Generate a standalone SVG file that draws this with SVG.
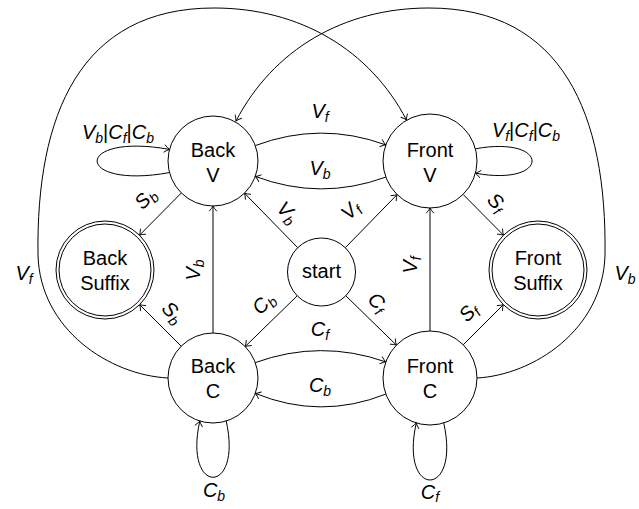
<svg xmlns="http://www.w3.org/2000/svg" width="639" height="509" viewBox="0 0 639 509">
  <style>
    .st { fill: #fff; stroke: #000; stroke-width: 1; }
    .nt { font-family: "Liberation Sans", Arial, sans-serif; font-size: 20px; text-anchor: middle; fill: #000; }
    .ed { fill: none; stroke: #000; stroke-width: 1; marker-end: url(#arr); }
    .lb { font-family: "Liberation Sans", Arial, sans-serif; font-size: 20px; font-style: italic; text-anchor: middle; fill: #000; }
    .sb { font-size: 14px; }
    .up { font-style: normal; }
  </style>
  <defs>
    <marker id="arr" markerUnits="userSpaceOnUse" viewBox="-7 -5 8 10" markerWidth="8" markerHeight="10" refX="0" refY="0" orient="auto" overflow="visible">
      <path d="M-5,-3.6 Q-2,-0.9 0,0 Q-2,0.9 -5,3.6" fill="none" stroke="#000" stroke-width="0.9" stroke-linecap="round"/>
    </marker>
  </defs>

  <!-- transitions -->
  <g id="edges">
    <!-- long arcs over the top -->
    <path class="ed" d="M168,378 C110,375 40,330 38,255 C36,115 80,8 214,8 C300,8 370,50 406.5,120"/>
    <path class="ed" d="M477,378 C533,375 603,330 605,255 C607,115 563,8 429,8 C343,8 273,50 236,121"/>

    <!-- from start -->
    <path class="ed" d="M297.7,247.7 L244.5,193.2"/>
    <path class="ed" d="M345.3,247.7 L397.1,194.6"/>
    <path class="ed" d="M297.2,295.8 L245.2,346.5"/>
    <path class="ed" d="M345.8,295.8 L396.4,345.1"/>

    <!-- into the suffix states -->
    <path class="ed" d="M181.3,193 L139.5,235.2"/>
    <path class="ed" d="M181.2,346.2 L139.6,304.6"/>
    <path class="ed" d="M463.1,194.4 L503.5,235.2"/>
    <path class="ed" d="M463.2,344.8 L503.4,304.6"/>

    <!-- C to V -->
    <path class="ed" d="M213,333 L213,206"/>
    <path class="ed" d="M430,331 L430,208"/>

    <!-- between Back and Front -->
    <path class="ed" d="M255.3,145.6 Q320.5,121 385.8,144.9"/>
    <path class="ed" d="M385.8,177.1 Q320.5,201 255.3,176.4"/>
    <path class="ed" d="M255.3,362.6 Q320.5,339 385.8,361.9"/>
    <path class="ed" d="M385.8,394.1 Q320.5,420 255.3,393.4"/>

    <!-- self loops -->
    <path class="ed" d="M169.5,172.6 C73,190 73,132 169.5,149.4"/>
    <path class="ed" d="M475.4,148.8 C551,135 551,187 475.4,173.2"/>
    <path class="ed" d="M226.2,421 C243,496 183,496 199.8,421"/>
    <path class="ed" d="M443.7,422.9 C461,499 399,499 416.3,422.9"/>

    <!-- transition labels -->
    <text class="lb" x="24" y="280">V<tspan class="sb" dy="4">f</tspan></text>
    <text class="lb" x="625" y="280">V<tspan class="sb" dy="4">b</tspan></text>

    <text class="lb" transform="translate(283,217) rotate(45)">V<tspan class="sb" dy="4">b</tspan></text>
    <text class="lb" transform="translate(355,215) rotate(-45)">V<tspan class="sb" dy="4">f</tspan></text>
    <text class="lb" transform="translate(268,308) rotate(-45)">C<tspan class="sb" dy="4">b</tspan></text>
    <text class="lb" transform="translate(373,307) rotate(45)">C<tspan class="sb" dy="4">f</tspan></text>

    <text class="lb" transform="translate(150,203) rotate(-45)">S<tspan class="sb" dy="4">b</tspan></text>
    <text class="lb" transform="translate(168,317) rotate(45)">S<tspan class="sb" dy="4">b</tspan></text>
    <text class="lb" transform="translate(492,207) rotate(45)">S<tspan class="sb" dy="4">f</tspan></text>
    <text class="lb" transform="translate(473,317) rotate(-45)">S<tspan class="sb" dy="4">f</tspan></text>

    <text class="lb" transform="translate(200,270) rotate(-90)">V<tspan class="sb" dy="4">b</tspan></text>
    <text class="lb" transform="translate(417,265) rotate(-90)">V<tspan class="sb" dy="4">f</tspan></text>

    <text class="lb" x="320" y="118">V<tspan class="sb" dy="4">f</tspan></text>
    <text class="lb" x="320" y="175">V<tspan class="sb" dy="4">b</tspan></text>
    <text class="lb" x="320" y="336">C<tspan class="sb" dy="4">f</tspan></text>
    <text class="lb" x="320" y="392">C<tspan class="sb" dy="4">b</tspan></text>

    <text class="lb" x="118" y="139">V<tspan class="sb" dy="4">b</tspan><tspan class="up" dy="-4">|</tspan>C<tspan class="sb" dy="4">f</tspan><tspan class="up" dy="-4">|</tspan>C<tspan class="sb" dy="4">b</tspan></text>
    <text class="lb" x="526" y="137">V<tspan class="sb" dy="4">f</tspan><tspan class="up" dy="-4">|</tspan>C<tspan class="sb" dy="4">f</tspan><tspan class="up" dy="-4">|</tspan>C<tspan class="sb" dy="4">b</tspan></text>
    <text class="lb" x="214" y="497">C<tspan class="sb" dy="4">b</tspan></text>
    <text class="lb" x="430" y="499">C<tspan class="sb" dy="3">f</tspan></text>
  </g>

  <!-- states -->
  <g id="start">
    <circle class="st" cx="321.5" cy="272" r="34"/>
    <text class="nt" x="321.5" y="278">start</text>
  </g>
  <g id="back-v">
    <circle class="st" cx="213" cy="161" r="45"/>
    <text class="nt" x="213" y="157">Back</text>
    <text class="nt" x="213" y="182">V</text>
  </g>
  <g id="front-v">
    <circle class="st" cx="430" cy="161" r="47"/>
    <text class="nt" x="430" y="157">Front</text>
    <text class="nt" x="430" y="182">V</text>
  </g>
  <g id="back-c">
    <circle class="st" cx="213" cy="378" r="45"/>
    <text class="nt" x="213" y="373">Back</text>
    <text class="nt" x="213" y="398">C</text>
  </g>
  <g id="front-c">
    <circle class="st" cx="430" cy="378" r="47"/>
    <text class="nt" x="430" y="373">Front</text>
    <text class="nt" x="430" y="398">C</text>
  </g>
  <g id="back-suffix">
    <circle class="st" cx="105" cy="270" r="49"/>
    <circle class="st" cx="105" cy="270" r="46"/>
    <text class="nt" x="105" y="265">Back</text>
    <text class="nt" x="105" y="290">Suffix</text>
  </g>
  <g id="front-suffix">
    <circle class="st" cx="538" cy="270" r="49"/>
    <circle class="st" cx="538" cy="270" r="46"/>
    <text class="nt" x="538" y="265">Front</text>
    <text class="nt" x="538" y="290">Suffix</text>
  </g>
</svg>
